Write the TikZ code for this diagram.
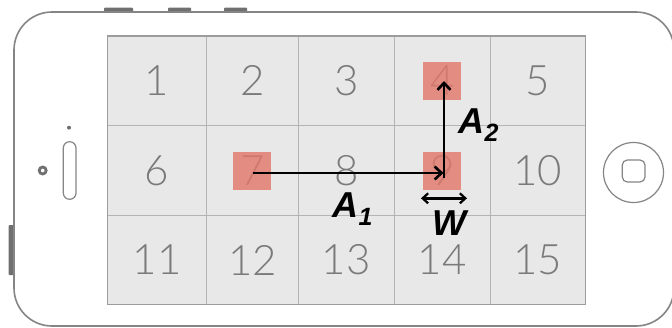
\documentclass[tikz,border=0pt]{standalone}
\usepackage{fontspec}
\setmainfont{Liberation Sans}
\newfontfamily\digitfont{Lato Light}
\usetikzlibrary{arrows.meta}

\definecolor{shell}{HTML}{858585}
\definecolor{shelldark}{HTML}{707070}
\definecolor{cellfill}{HTML}{E8E8E8}
\definecolor{cellline}{HTML}{B4B4B4}
\definecolor{gridedge}{HTML}{9C9C9C}
\definecolor{digit}{HTML}{7A7A7A}
\definecolor{hitred}{HTML}{E2786C}

\tikzset{
  outline/.style={draw=shell, line width=1.6pt},
  sidebutton/.style={fill=shelldark, rounded corners=1pt},
  celltext/.style={font=\digitfont\fontsize{42}{42}\selectfont, text=digit, inner sep=0pt},
  hit/.style={fill=hitred, fill opacity=0.82, minimum size=38pt, inner sep=0pt},
  vec/.style={line width=2.8pt, -{Straight Barb[length=7pt,width=13pt,line width=2.6pt]}},
  span/.style={line width=2.4pt, {Straight Barb[length=5.5pt,width=10pt,line width=2.2pt]}-{Straight Barb[length=5.5pt,width=10pt,line width=2.2pt]}},
  lbl/.style={font=\bfseries\itshape\fontsize{36}{36}\selectfont, inner sep=0pt},
}
\newcommand{\lowidx}[1]{\raisebox{-8pt}{\fontsize{25}{25}\selectfont #1}}

\begin{document}
\begin{tikzpicture}[x=1pt,y=-1pt]
\useasboundingbox (0,0) rectangle (672,327);

% buttons on the top and left edge
\fill[sidebutton] (104,7.5) rectangle (133,12.5);
\fill[sidebutton] (168,7.5) rectangle (191,12.5);
\fill[sidebutton] (224,7.5) rectangle (247,12.5);
\fill[sidebutton] (8.5,225) rectangle (14,275);

% phone body
\draw[outline, fill=white, rounded corners=38pt] (14,12) rectangle (674,326);

% front camera, sensor dot and speaker
\fill[shelldark, even odd rule] (42.7,170.5) circle (5pt) (42.7,170.5) circle (2pt);
\fill[shelldark] (69,127.7) circle (2pt);
\draw[draw=shell, line width=1.2pt, rounded corners=6.3pt] (63.3,141.7) rectangle (76,199.3);

% home button
\draw[draw=shell, line width=1.2pt] (633.5,172.5) circle (30pt);
\draw[draw=shell, line width=1.2pt, rounded corners=5pt] (622.3,160) rectangle (645,182);

% screen grid
\fill[cellfill] (107.3,36) rectangle (585.7,304.7);
\foreach \x in {206.7,298.3,394.3,490}
  \draw[cellline, line width=0.8pt] (\x,36) -- (\x,304.7);
\foreach \y in {125,215}
  \draw[cellline, line width=0.8pt] (107.3,\y) -- (585.7,\y);
\draw[gridedge, line width=1.4pt] (107.3,36) rectangle (585.7,304.7);

% cell numbers
\foreach \cx [count=\i] in {157,252.5,346.3,442.2,537.8}{
  \node[celltext] (n\i) at (\cx,80.5) {\i};
  \pgfmathtruncatemacro{\j}{\i+5}
  \node[celltext] (n\j) at (\cx,170.5) {\j};
  \pgfmathtruncatemacro{\k}{\i+10}
  \node[celltext] (n\k) at (\cx,260) {\k};
}

% highlighted cells
\node[hit] (s4) at (442.3,80.8) {};
\node[hit] (s7) at (251.7,170.5) {};
\node[hit] (s9) at (441.8,170.5) {};

% displacement vectors
\coordinate (a1start) at (253,173);
\coordinate (a1end) at (443.5,173);
\coordinate (a2start) at (444,177.5);
\coordinate (a2end) at (444,81);
\draw[vec] (a1start) -- (a1end);
\draw[vec] (a2start) -- (a2end);

% width marker
\coordinate (wl) at (421,198.3);
\coordinate (wr) at (467,198.3);
\draw[span] (wl) -- (wr);

% labels
\node[lbl, anchor=base west] (la1) at (332.5,217.3) {A\lowidx{1}};
\node[lbl, anchor=base west] (la2) at (458.5,133) {A\lowidx{2}};
\node[lbl, anchor=base] (lw) at (449,235) {W};
\end{tikzpicture}
\end{document}
